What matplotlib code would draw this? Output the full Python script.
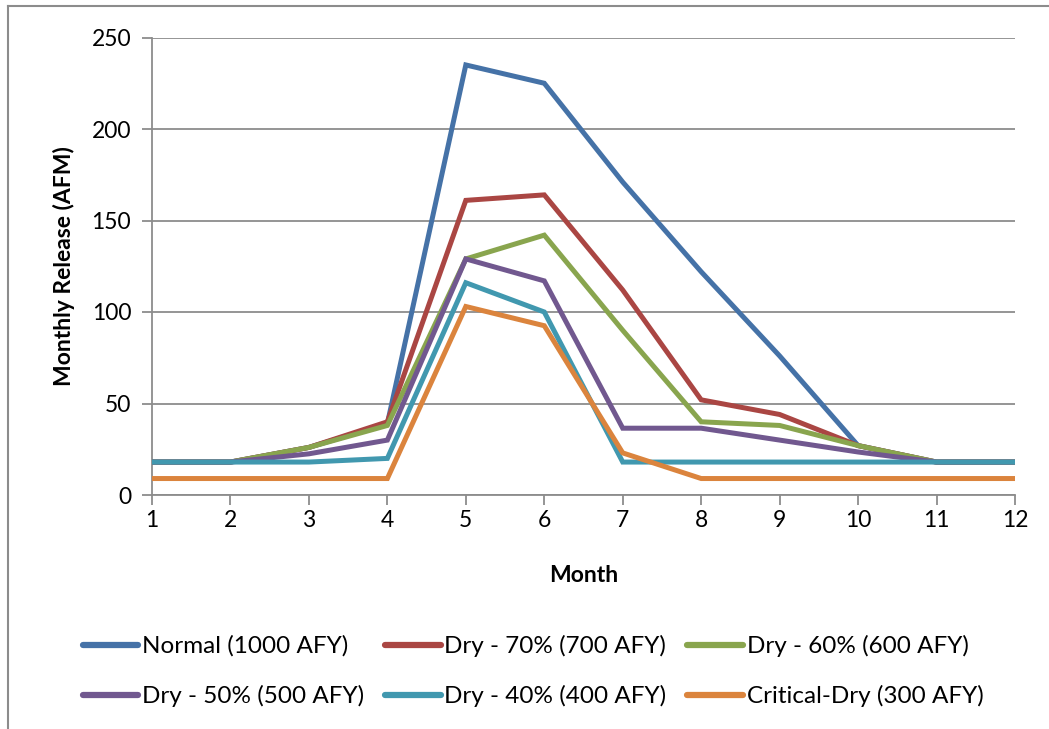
import matplotlib
matplotlib.use("Agg")
import matplotlib.pyplot as plt
from matplotlib.lines import Line2D

months = [1, 2, 3, 4, 5, 6, 7, 8, 9, 10, 11, 12]
normal = [18, 18, 26, 39, 235, 225, 171, 122, 76, 27, 18, 18]
dry70 = [18, 18, 26, 40, 161, 164, 112, 52, 44, 27, 18, 18]
dry60 = [18, 18, 26, 38, 129, 142, 90, 40, 38, 27, 18, 18]
dry50 = [18, 18, 22.5, 30, 129, 117, 36.5, 36.5, 30, 23.5, 18, 18]
dry40 = [18, 18, 18, 20, 116, 100, 18, 18, 18, 18, 18, 18]
critical = [9, 9, 9, 9, 103, 92.5, 23, 9, 9, 9, 9, 9]

labels = ["Normal (1000 AFY)", "Dry - 70% (700 AFY)", "Dry - 60% (600 AFY)",
          "Dry - 50% (500 AFY)", "Dry - 40% (400 AFY)", "Critical-Dry (300 AFY)"]
series = [normal, dry70, dry60, dry50, dry40, critical]
colors = ["#4572A7", "#AA4643", "#89A54E", "#71588F", "#4198AF", "#DB843D"]

yticks = [0, 50, 100, 150, 200, 250]

plt.rcParams['font.family'] = ['Lato', 'DejaVu Sans']

W, H = 1049, 729
fig = plt.figure(figsize=(W / 100, H / 100), dpi=100)
ax = fig.add_axes([152 / W, 1 - 495 / H, (1015 - 152) / W, (495 - 37.5) / H])

for ys, c, lab in zip(series, colors, labels):
    ax.plot(months, ys, color=c, lw=3.6, solid_joinstyle='miter', label=lab, zorder=3)

grid_c = "#8C8C8C"
ax.set_xlim(1, 12)
ax.set_ylim(0, 250)
ax.set_yticks(yticks)
ax.set_xticks(months)
ax.yaxis.grid(True, color=grid_c, lw=1.3)
ax.set_axisbelow(True)
for s in ["top", "right"]:
    ax.spines[s].set_visible(False)
for s in ["left", "bottom"]:
    ax.spines[s].set_color(grid_c)
    ax.spines[s].set_linewidth(1.3)
ax.tick_params(axis='both', colors=grid_c, width=1.3, length=7, labelsize=16.5,
               labelcolor='black', direction='out')
ax.tick_params(axis='y', pad=8)
ax.tick_params(axis='x', pad=4)
ax.set_xlabel("Month", fontsize=16.5, fontweight='bold', labelpad=24)
ax.set_ylabel("Monthly Release (AFM)", fontsize=16.5, fontweight='bold', labelpad=12)

order = [0, 3, 1, 4, 2, 5]
handles = [Line2D([0], [0], color=c, lw=4.5, solid_capstyle='round') for c in colors]
fig.legend([handles[i] for i in order], [labels[i] for i in order], loc='center',
           bbox_to_anchor=(533 / W, 1 - 671 / H),
           ncol=3, frameon=False, fontsize=17.5, handlelength=2.3, handletextpad=0.15,
           columnspacing=0.85, labelspacing=1.15)

# outer chart border (top and left visible)
fig.add_artist(Line2D([8 / W, 8 / W], [0, 1 - 6 / H], color="#8C8C8C", lw=1.5,
                      transform=fig.transFigure))
fig.add_artist(Line2D([8 / W, 1], [1 - 6 / H, 1 - 6 / H], color="#8C8C8C", lw=1.5,
                      transform=fig.transFigure))

fig.savefig("out.png", dpi=100)
